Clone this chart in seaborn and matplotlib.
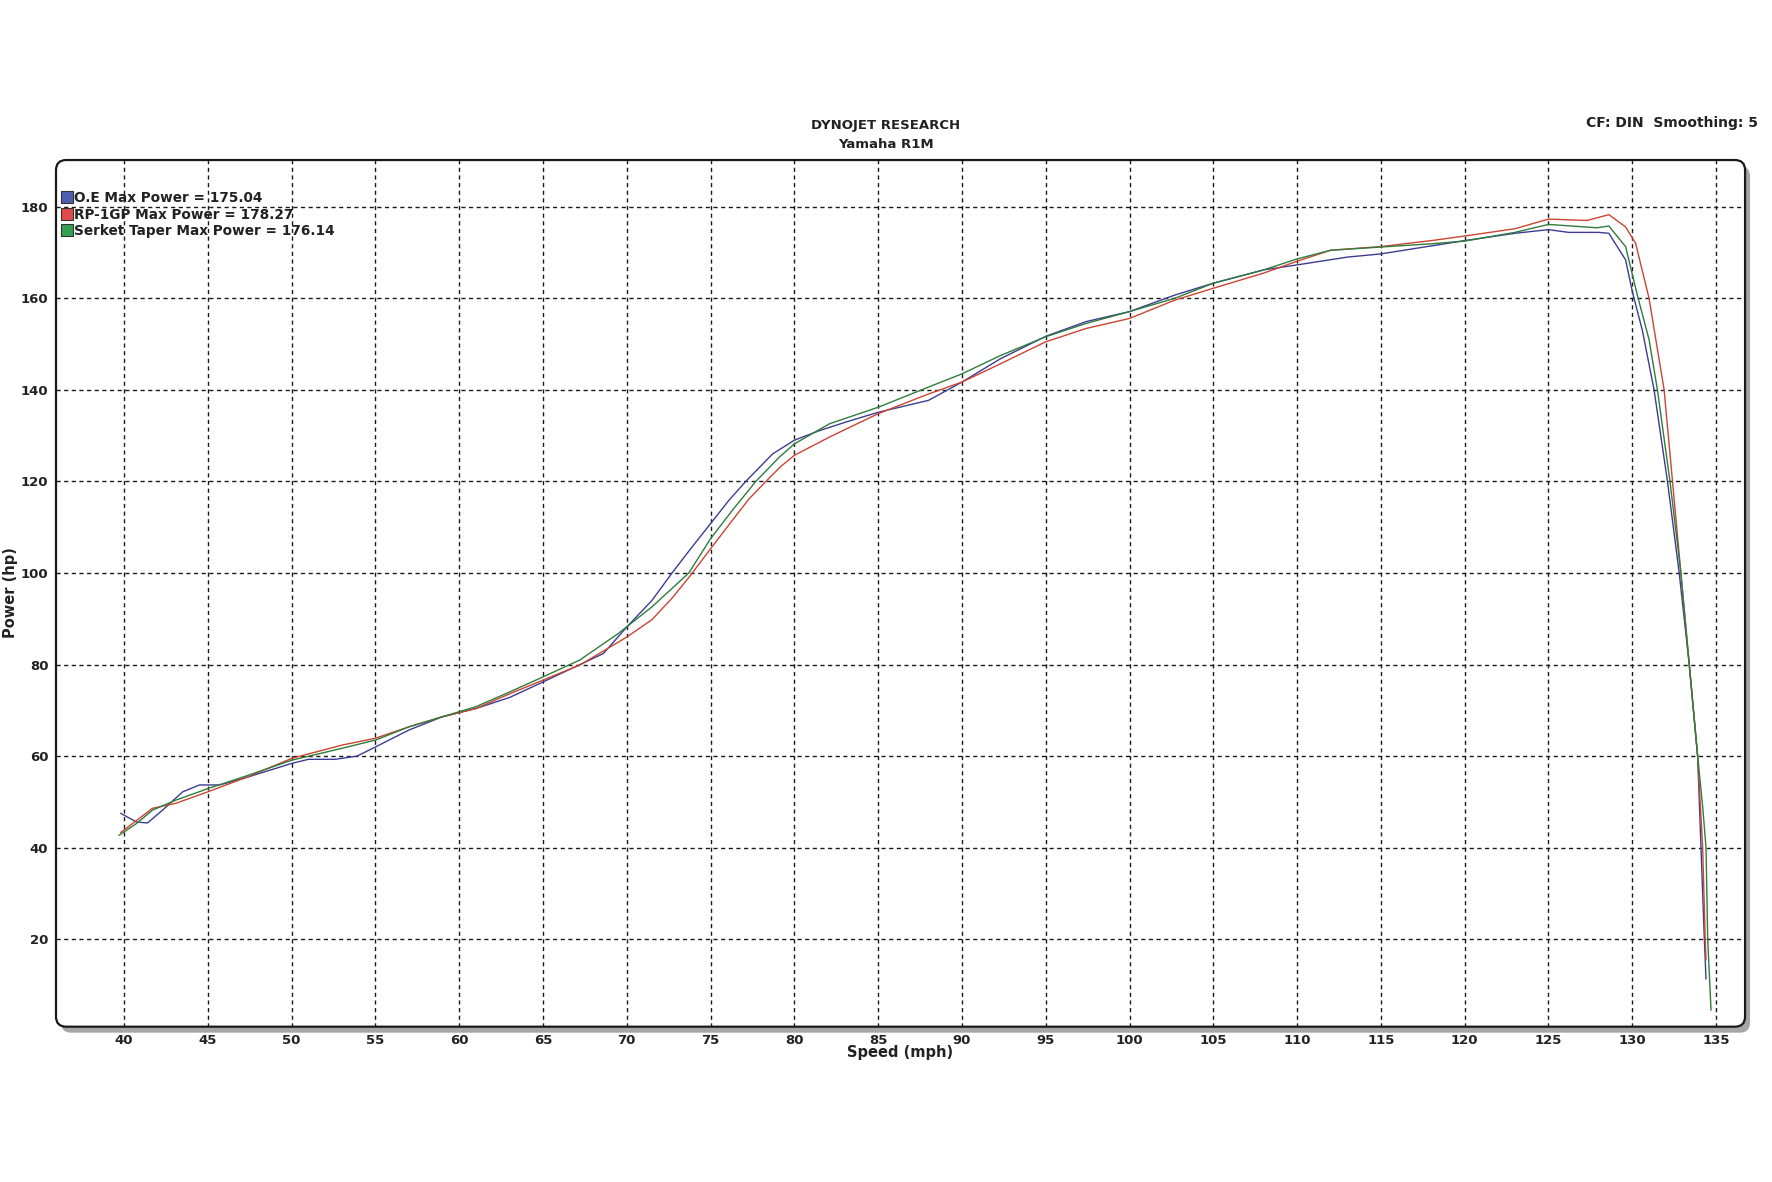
import matplotlib.pyplot as plt
import matplotlib.ticker as mticker
from matplotlib.patches import FancyBboxPatch
from matplotlib.lines import Line2D
import seaborn as sns
import pandas as pd

# run names and peak figures from the dyno sheet
run_names = ["O.E", "RP-1GP", "Serket Taper"]
max_power = [175.04, 178.27, 176.14]

oe_speed = [39.8, 40.75, 41.4, 42.3, 43.5, 44.5, 45.7, 47.1, 50, 51, 52.6, 53.9, 55, 57, 59, 61, 63,
            65, 68.6, 70, 71.5, 72.7, 73.9, 75, 76.1, 77.1, 78.7, 80, 81.5, 83.1, 85, 88, 90, 92.3,
            95, 97.4, 100, 102.7, 105, 108, 110, 113, 115, 120, 123, 125, 126.2, 128, 128.6, 129.6,
            130, 130.6, 131.3, 132.1, 132.8, 133.4, 133.9, 134.1, 134.3, 134.4]
oe_power = [47.5, 45.6, 45.4, 48.2, 52.2, 53.7, 53.7, 55.1, 58.4, 59.3, 59.3, 60, 62, 65.7, 68.6, 70.4, 72.8,
            76.2, 82.4, 88.2, 94, 100, 105.7, 110.8, 115.9, 120, 126, 129, 131.1, 133, 135.1, 137.7, 141.7, 146.8,
            151.7, 154.9, 157.1, 160.7, 163.3, 166.2, 167.3, 169, 169.7, 172.6, 174.2, 175.0, 174.4, 174.4, 174.2, 168.4,
            161.5, 153, 140, 120, 100, 80, 60, 40, 20, 11.3]

rp_speed = [39.8, 41.7, 43.1, 45, 47.4, 50, 53, 55, 57, 59, 61, 63, 65, 67.2, 70, 71.5, 72.7, 73.7, 75, 76.3,
            77.3, 78.3, 79.2, 80, 82.1, 85, 88, 90, 92.3, 95, 97.4, 100, 102.7, 105, 108, 110, 112, 115, 118,
            120, 123, 125, 127.3, 128.6, 129.6, 130.2, 131, 131.9, 132.4, 132.9, 133.4, 133.9, 134.2, 134.35, 134.4]
rp_power = [43.3, 48.6, 49.7, 52.2, 55.5, 59.5, 62.4, 63.9, 66.4, 68.6, 70.4, 73.6, 76.6, 79.9, 86, 89.8, 94.5, 99, 105.3, 111.5,
            116.2, 120, 123.3, 125.7, 129.7, 134.8, 139.1, 141.7, 145.7, 150.5, 153.4, 155.6, 159.6, 162.2, 165.5, 168.1, 170.5, 171.3, 172.6,
            173.6, 175.2, 177.3, 177, 178.27, 175.6, 172, 160, 140, 120, 100, 80, 60, 40, 20, 15.5]

st_speed = [39.7, 40.75, 41.7, 43.1, 45, 47.4, 50, 53, 55, 57, 59, 61, 63, 65, 67.2, 69.5, 71.5, 73.7, 75,
            76.3, 77.7, 79.1, 80, 82.1, 85, 88, 90, 92.3, 95, 97.4, 100, 102.7, 105, 108, 110, 112, 115, 118,
            120, 123, 125, 127.9, 128.6, 129.6, 130.35, 131, 131.5, 132.25, 132.9, 133.4, 133.9, 134.2, 134.4, 134.5, 134.7]
st_power = [42.7, 45.3, 48.2, 50.4, 52.9, 55.8, 59.1, 61.7, 63.5, 66.4, 68.6, 70.8, 74, 77.3, 81, 86.8, 92.6, 100, 107.5,
            113.7, 120, 125.3, 128.2, 132.6, 136.2, 140.6, 143.5, 147.5, 151.6, 154.5, 157.1, 160, 163.3, 166.2, 168.6, 170.5, 171.2, 171.9,
            172.5, 174.4, 176.14, 175.4, 175.8, 171.3, 160, 151, 140, 120, 100, 80, 60, 49, 40, 20, 4.5]

line_colors = ["#3c3c92", "#cc4432", "#2f7d3c"]
box_colors = ["#4d5fb0", "#e24a4a", "#35a050"]

sns.set_style("white")
plt.rcParams["font.family"] = ["DejaVu Sans"]
plt.rcParams["font.weight"] = "bold"

frames = []
for name, sp, pw in zip(run_names, [oe_speed, rp_speed, st_speed], [oe_power, rp_power, st_power]):
    frames.append(pd.DataFrame({"Speed": sp, "Power": pw, "Run": name}))
df = pd.concat(frames, ignore_index=True)

fig = plt.figure(figsize=(17.72, 11.82), dpi=100)
ax = fig.add_axes([0.0316, 0.1314, 0.9532, 0.7332])
ax.set_facecolor("none")

sns.lineplot(data=df, x="Speed", y="Power", hue="Run", hue_order=run_names,
             palette=line_colors, estimator=None, sort=False, linewidth=1.0,
             legend=False, ax=ax)

ax.set_xlim(35.94, 136.73)
ax.set_ylim(0.9, 190.2)
ax.xaxis.set_minor_locator(mticker.FixedLocator([v for v in range(37, 137)]))
ax.yaxis.set_major_locator(mticker.FixedLocator(range(20, 181, 20)))
ax.yaxis.set_minor_locator(mticker.FixedLocator(range(5, 190, 5)))
ax.set_xticks(range(40, 136, 5))

ax.grid(True, which="major", color="#1a1a1a", linestyle=(0, (3, 2.5)), linewidth=1.0)
ax.tick_params(which="major", direction="inout", length=9, width=1.3, labelsize=9.5, pad=1, color="#222222")
ax.tick_params(which="minor", direction="inout", length=8, width=1.1, color="#222222")
for lab in ax.get_xticklabels() + ax.get_yticklabels():
    lab.set_fontweight("bold")
    lab.set_color("#222222")
ax.set_xlabel("")
ax.set_ylabel("")
for sp in ax.spines.values():
    sp.set_visible(False)

# rounded frame with a grey drop shadow, like the dyno software
aspect = 1689 / 867
shadow = FancyBboxPatch((5 / 1689, -6 / 867), 1, 1, boxstyle="round,pad=0,rounding_size=0.006",
                        mutation_aspect=aspect, transform=ax.transAxes, facecolor="#a6a6a6",
                        edgecolor="none", zorder=-3, clip_on=False)
back = FancyBboxPatch((0, 0), 1, 1, boxstyle="round,pad=0,rounding_size=0.006",
                      mutation_aspect=aspect, transform=ax.transAxes, facecolor="white",
                      edgecolor="none", zorder=-2, clip_on=False)
frame = FancyBboxPatch((0, 0), 1, 1, boxstyle="round,pad=0,rounding_size=0.006",
                       mutation_aspect=aspect, transform=ax.transAxes, facecolor="none",
                       edgecolor="#1a1a1a", linewidth=1.6, zorder=5, clip_on=False)
ax.add_patch(shadow)
ax.add_patch(back)
ax.add_patch(frame)

handles = [Line2D([], [], linestyle="none", marker="s", markersize=8, markerfacecolor=fc,
                  markeredgecolor="#333333", markeredgewidth=0.8) for fc in box_colors]
labels = [f"{n} Max Power = {m:.2f}" for n, m in zip(run_names, max_power)]
leg = ax.legend(handles, labels, loc="upper left", bbox_to_anchor=(0.003, 0.964), frameon=False,
                borderpad=0, borderaxespad=0, handlelength=0.8, handletextpad=0.15,
                labelspacing=0.17, prop={"size": 9.8, "weight": "bold"})
for t in leg.get_texts():
    t.set_color("#222222")

fig.text(0.5, 1 - 126 / 1182, "DYNOJET RESEARCH", ha="center", va="center", fontsize=9.5,
         fontweight="bold", color="#222222")
fig.text(0.5, 1 - 145 / 1182, "Yamaha R1M", ha="center", va="center", fontsize=9.5,
         fontweight="bold", color="#222222")
fig.text(1758 / 1772, 1 - 123 / 1182, "CF: DIN  Smoothing: 5", ha="right", va="center", fontsize=10,
         fontweight="bold", color="#222222")
fig.text(900 / 1772, 1 - 1052 / 1182, "Speed (mph)", ha="center", va="center", fontsize=10.5,
         fontweight="bold", color="#222222")
fig.text(11 / 1772, 1 - 593 / 1182, "Power (hp)", ha="center", va="center", rotation=90,
         fontsize=10.5, fontweight="bold", color="#222222")

fig.savefig("out.png", dpi=100, facecolor="white")
plt.close(fig)
